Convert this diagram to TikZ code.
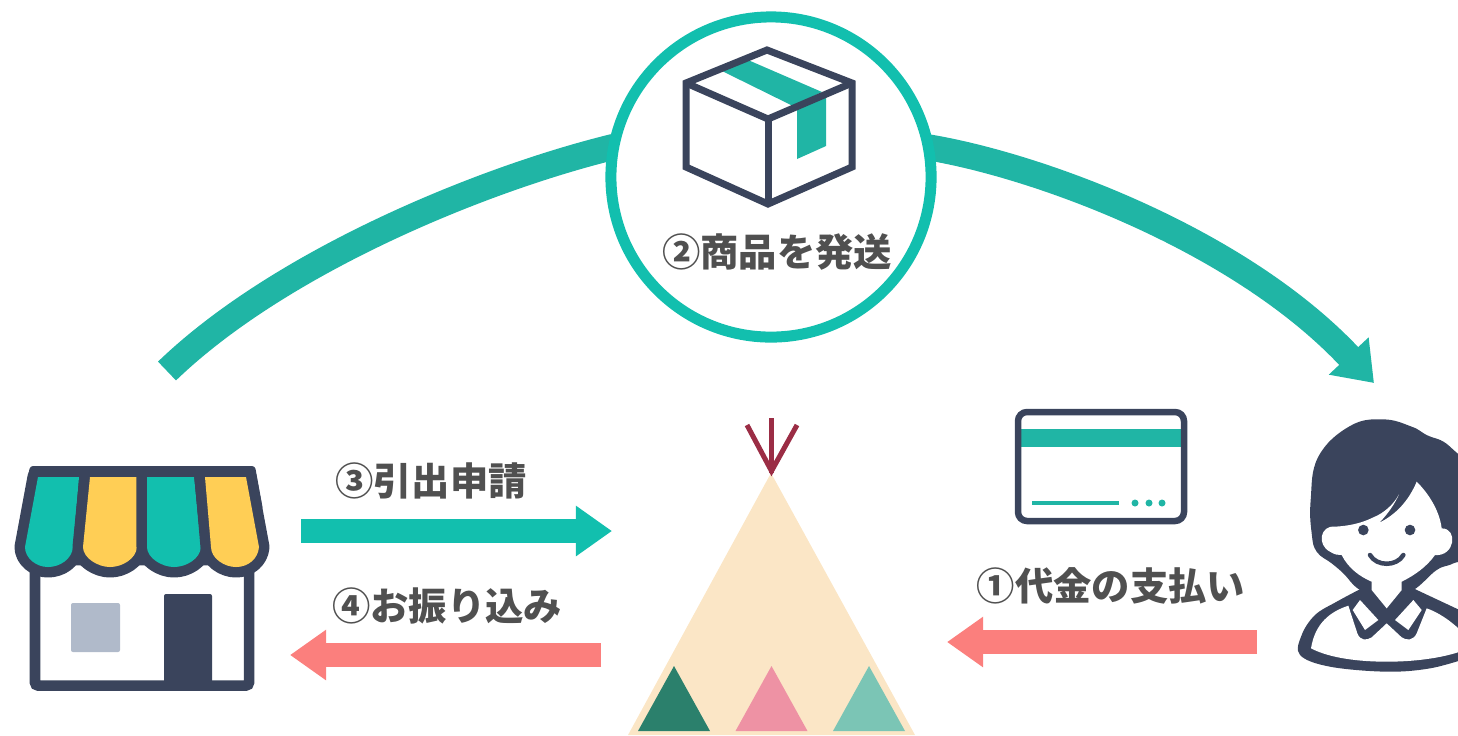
\documentclass[tikz,border=0pt]{standalone}
\usepackage{fontspec}
\newfontfamily\jpfont{Noto Sans CJK JP}
\usetikzlibrary{arrows.meta,backgrounds}

\definecolor{ink}{HTML}{3A445C}
\definecolor{ringteal}{HTML}{12BFAE}
\definecolor{tapeteal}{HTML}{20B5A5}
\definecolor{salmon}{HTML}{FB7F7D}
\definecolor{gold}{HTML}{FFCE55}
\definecolor{tent}{HTML}{FBE6C6}
\definecolor{pole}{HTML}{9B2D45}
\definecolor{textgray}{HTML}{505050}

\tikzset{
  caption/.style={font=\jpfont\bfseries\fontsize{10.9}{13}\selectfont, text=textgray, inner sep=0pt},
  flowarrow/.style={line width=0.24cm, -{Triangle[length=0.36cm,width=0.48cm]}},
  bigcurve/.style={draw=tapeteal, line width=0.26cm},
  boxline/.style={draw=ink, line width=0.07cm, line join=miter}
}

\newcommand{\awningpath}[5]{(#1,477) -- (#2,477) -- (#3,547) .. controls (#3-1,559) and (#5+12,567) .. (#5,567)
  .. controls (#5-12,567) and (#4,558) .. (#4,547) -- cycle}

\begin{document}
\begin{tikzpicture}[x=0.01cm,y=-0.01cm]
    \useasboundingbox (0,0) rectangle (1458,735);

    % parcel in the ring
    \node[circle, draw=ringteal, fill=white, line width=0.11cm, minimum size=3.2cm, inner sep=0pt] (parcel) at (771,177) {};
    \coordinate (shopend) at (167,371);
    \coordinate (buyerend) at (1374,383);
    \begin{scope}[on background layer]
	\draw[bigcurve, shorten >=-0.06cm] (shopend) .. controls (280,262) and (482,179) .. (parcel.170);
	\draw[bigcurve, shorten <=-0.06cm, -{Triangle[length=0.37cm,width=0.52cm]}] (parcel.10) .. controls (1040,166) and (1240,240) .. (buyerend);
    \end{scope}

    \fill[tapeteal] (722,71) -- (748,60) -- (822,92) -- (793,106) -- cycle;
    \fill[tapeteal] (797,108) -- (826,97) -- (826,146) -- (797,159) -- cycle;
    \draw[boxline] (767,50) -- (852,83) -- (852,167) -- (768,204) -- (686,167) -- (686,83) -- cycle;
    \draw[boxline] (686,83) -- (768,119) -- (852,83);
    \draw[boxline] (768,119) -- (768,204);
    \node[caption] (shipping) at (777,252) {②商品を発送};

    % shop
    \draw[draw=ink, fill=white, line width=0.105cm, rounded corners=0.03cm] (35,560) rectangle (249,685.5);
    \fill[fill={rgb,255:red,176;green,186;blue,202}, rounded corners=0.02cm] (71,603) rectangle (120,652);
    \fill[ink, rounded corners=0.02cm] (164,594) rectangle (212,685);
    \fill[ink, rounded corners=0.03cm] (30,466) -- (255,466) -- (263,510) -- (22,510) -- cycle;
    \foreach \col/\a/\b/\c/\d/\e in {ringteal/38/79/73/25/48, gold/90/137/137/83/110, ringteal/147/194/201/147/174, gold/205/246/259/211/236}
    {
	\path[draw=ink, line width=0.21cm, line join=round] \awningpath{\a}{\b}{\c}{\d}{\e};
	\fill[\col] \awningpath{\a}{\b}{\c}{\d}{\e};
    }

    % arrows and their captions
    \coordinate (withdrawstart) at (301,531);
    \coordinate (withdrawend) at (612,531);
    \coordinate (payoutstart) at (601,655);
    \coordinate (payoutend) at (290,655);
    \coordinate (paystart) at (1257,642);
    \coordinate (payend) at (947,642);
    \draw[flowarrow, ringteal] (withdrawstart) -- (withdrawend);
    \draw[flowarrow, salmon] (payoutstart) -- (payoutend);
    \draw[flowarrow, salmon] (paystart) -- (payend);
    \node[caption] (withdraw) at (431,481) {③引出申請};
    \node[caption] (payout) at (447,606) {④お振り込み};
    \node[caption] (payment) at (1111,586) {①代金の支払い};

    % tent
    \fill[tent] (771,473) -- (915,735) -- (628,735) -- cycle;
    \foreach \x/\col in {674/{rgb,255:red,43;green,128;blue,108}, 771.5/{rgb,255:red,238;green,146;blue,164}, 869/{rgb,255:red,123;green,197;blue,181}}
    {
	\fill[color/.expanded=\col] (\x,666) -- (\x+36,731) -- (\x-36,731) -- cycle;
    }
    \draw[pole, line width=0.05cm] (771.5,418) -- (771.5,473);
    \draw[pole, line width=0.05cm] (747,425) -- (771.5,471) -- (797,425);

    % card
    \fill[tapeteal] (1021,429) rectangle (1181,447);
    \draw[ink, line width=0.065cm, rounded corners=0.09cm] (1018,412) rectangle (1184,521);
    \draw[tapeteal, line width=0.045cm] (1032,503) -- (1119,503);
    \foreach \x in {1135,1149,1162}
	\fill[tapeteal] (\x,503) circle (0.035cm);

    % buyer
    \begin{scope}[shift={(1280,400)}, x=0.01cm/3, y=-0.01cm/3]
	\clip (0,0) rectangle (534,840);
	\fill[ink] plot[smooth cycle, tension=0.7] coordinates {(95,400) (92,300) (115,170) (210,78) (310,58) (395,80) (440,105) (510,140) (580,240) (590,450) (520,490) (470,510) (400,570) (320,600) (240,570) (190,520) (155,490) (110,455)};
	\fill[ink] plot[smooth, tension=0.6] coordinates {(245,565) (170,605) (105,645) (65,705) (60,765) (150,800) (320,815) (450,805) (560,775)} -- (560,640) -- (400,565) -- cycle;
	\fill[white] (410,245) .. controls (385,305) and (345,345) .. (298,368) .. controls (325,340) and (345,310) .. (357,283)
	  .. controls (340,315) and (310,340) .. (280,352) .. controls (240,372) and (200,378) .. (165,380)
	  .. controls (120,375) and (110,435) .. (150,455) .. controls (165,465) and (175,465) .. (185,465)
	  .. controls (205,505) and (240,530) .. (275,545) -- (275,570) -- (320,625) -- (365,570) -- (365,545)
	  .. controls (405,525) and (440,500) .. (465,465) .. controls (525,470) and (535,385) .. (485,385)
	  .. controls (478,330) and (445,280) .. (410,245) -- cycle;
	\fill[white] (205,617) .. controls (150,635) and (105,670) .. (93,745) .. controls (150,775) and (240,785) .. (320,785)
	  .. controls (400,785) and (480,775) .. (540,755) -- (540,690) .. controls (510,660) and (470,635) .. (440,625)
	  -- (410,700) .. controls (400,722) and (380,722) .. (365,712) -- (320,670) -- (275,712) .. controls (260,722) and (240,722) .. (232,700) -- cycle;
	\fill[white] (240,600) -- (295,660) -- (255,690) -- (218,630) -- cycle;
	\fill[white] (400,600) -- (345,660) -- (385,690) -- (425,630) -- cycle;
	\fill[ink] (250,390) circle (0.053cm);
	\fill[ink] (390,390) circle (0.053cm);
	\draw[ink, line width=0.045cm, line cap=round] (270,465) .. controls (290,500) and (350,500) .. (370,465);
    \end{scope}
\end{tikzpicture}
\end{document}
